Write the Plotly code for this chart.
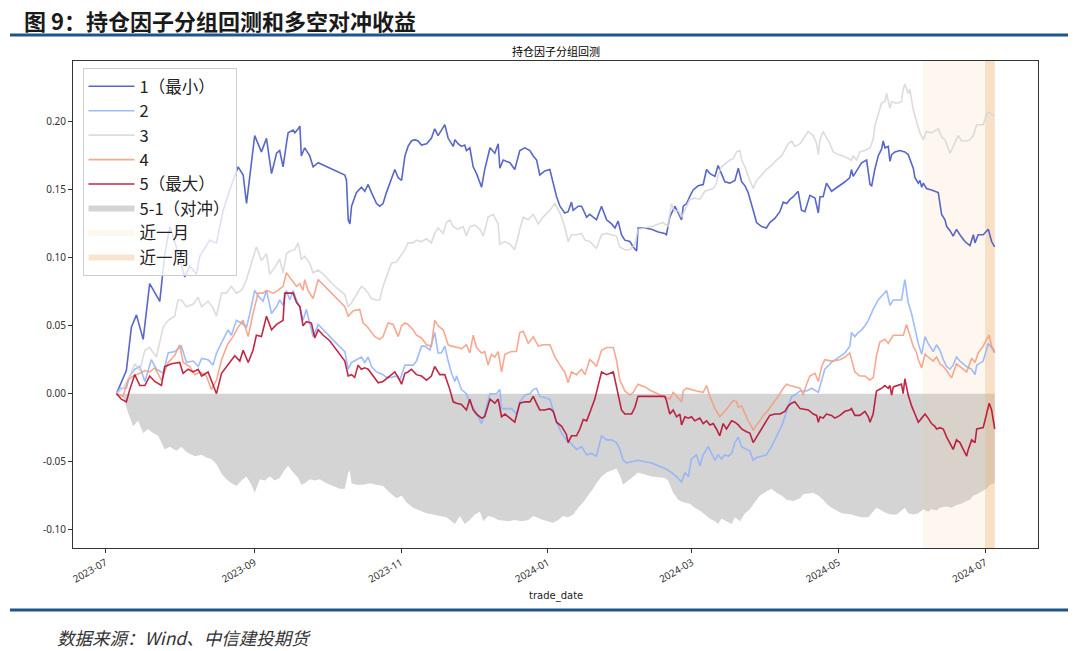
import pandas as pd
import plotly.graph_objects as go

BASE_DATE = pd.Timestamp("2023-07-01")

# ---- data: day offsets from BASE_DATE and cumulative returns ----
g1_day = [4.6, 8.7, 10.8, 12.9, 15.7, 18.4, 22.6, 24.7, 26.8, 29.5,
          33.0, 35.1, 37.9, 39.2, 43.4, 46.2, 49.0, 51.7, 55.2, 57.3,
          58.7, 60.1, 62.1, 64.9, 67.0, 69.1, 71.2, 72.5, 73.9, 75.3,
          76.0, 78.1, 78.8, 80.2, 80.9, 81.5, 82.9, 85.0, 86.4, 88.5,
          99.6, 100.3, 101.0, 101.7, 102.4, 104.4, 106.5, 107.9, 109.3, 110.7,
          112.8, 114.1, 115.5, 116.9, 118.3, 120.4, 121.8, 123.2, 124.6, 125.9,
          127.3, 128.7, 130.1, 131.5, 133.6, 135.6, 137.0, 138.4, 139.8, 141.2,
          142.6, 144.7, 145.4, 146.7, 148.1, 149.5, 150.2, 151.6, 153.0, 154.4,
          156.5, 157.8, 160.0, 162.0, 163.4, 164.1, 165.5, 168.3, 170.3, 172.4,
          174.5, 176.6, 178.0, 179.4, 180.7, 182.8, 184.9, 187.7, 189.1, 191.1,
          192.5, 193.9, 194.6, 196.7, 198.1, 200.2, 201.5, 204.3, 206.4, 208.5,
          210.6, 212.0, 213.3, 214.7, 216.1, 218.2, 219.6, 221.0, 221.6, 224.4,
          227.2, 230.0, 232.7, 233.4, 234.8, 236.9, 238.3, 239.7, 240.4, 241.8,
          243.1, 244.5, 246.6, 248.7, 250.1, 251.5, 253.6, 254.9, 256.3, 257.7,
          259.8, 261.9, 263.3, 264.7, 266.1, 267.4, 269.5, 270.9, 273.0, 275.0,
          276.4, 278.5, 280.6, 282.0, 283.4, 284.8, 286.2, 288.2, 289.6, 291.0,
          293.1, 295.2, 296.6, 297.3, 298.6, 300.0, 302.1, 305.6, 307.7, 309.7,
          310.4, 311.1, 312.5, 314.6, 316.7, 318.1, 318.8, 320.1, 321.5, 322.9,
          323.6, 324.3, 325.7, 326.4, 327.1, 328.5, 330.5, 332.6, 334.0, 336.1,
          336.8, 338.2, 338.9, 339.6, 340.3, 341.6, 343.7, 346.5, 347.9, 349.3,
          350.0, 351.4, 352.7, 354.1, 355.5, 357.6, 359.7, 361.1, 361.8, 363.1,
          365.2, 367.3, 368.7, 370.0]
g1_ret = [0.000, 0.017, 0.049, 0.058, 0.040, 0.081, 0.068, 0.103, 0.123, 0.108,
          0.086, 0.094, 0.088, 0.101, 0.113, 0.111, 0.135, 0.150, 0.167, 0.161,
          0.140, 0.161, 0.190, 0.178, 0.188, 0.162, 0.177, 0.179, 0.167, 0.184,
          0.192, 0.194, 0.192, 0.195, 0.197, 0.175, 0.181, 0.175, 0.167, 0.170,
          0.161, 0.157, 0.128, 0.125, 0.138, 0.148, 0.152, 0.149, 0.154, 0.148,
          0.140, 0.138, 0.140, 0.148, 0.155, 0.165, 0.159, 0.157, 0.175, 0.182,
          0.186, 0.187, 0.186, 0.183, 0.184, 0.188, 0.195, 0.190, 0.194, 0.198,
          0.188, 0.182, 0.187, 0.184, 0.182, 0.183, 0.179, 0.181, 0.167, 0.162,
          0.152, 0.165, 0.181, 0.177, 0.184, 0.166, 0.172, 0.170, 0.165, 0.179,
          0.181, 0.179, 0.175, 0.172, 0.161, 0.164, 0.165, 0.145, 0.138, 0.133,
          0.134, 0.141, 0.135, 0.138, 0.138, 0.130, 0.132, 0.128, 0.138, 0.128,
          0.125, 0.122, 0.127, 0.117, 0.113, 0.112, 0.108, 0.105, 0.122, 0.122,
          0.121, 0.119, 0.118, 0.117, 0.130, 0.138, 0.133, 0.128, 0.138, 0.140,
          0.145, 0.150, 0.153, 0.154, 0.165, 0.162, 0.160, 0.168, 0.162, 0.156,
          0.155, 0.157, 0.166, 0.156, 0.153, 0.148, 0.135, 0.126, 0.123, 0.122,
          0.126, 0.129, 0.134, 0.141, 0.140, 0.143, 0.145, 0.149, 0.135, 0.134,
          0.146, 0.144, 0.133, 0.145, 0.145, 0.155, 0.149, 0.153, 0.156, 0.159,
          0.165, 0.160, 0.164, 0.170, 0.172, 0.154, 0.153, 0.165, 0.175, 0.180,
          0.186, 0.181, 0.182, 0.171, 0.176, 0.178, 0.179, 0.178, 0.176, 0.166,
          0.159, 0.155, 0.157, 0.152, 0.155, 0.151, 0.150, 0.148, 0.132, 0.128,
          0.123, 0.120, 0.116, 0.121, 0.117, 0.112, 0.109, 0.117, 0.111, 0.117,
          0.117, 0.121, 0.112, 0.108]

g2_day = [4.6, 6.0, 8.7, 10.1, 12.2, 14.3, 16.4, 19.1, 21.2, 24.0,
          26.1, 28.8, 31.6, 33.7, 36.5, 38.6, 40.0, 42.7, 44.8, 46.2,
          49.0, 51.0, 52.4, 54.5, 56.6, 58.7, 60.1, 62.1, 63.5, 65.6,
          67.0, 69.1, 71.2, 72.5, 73.9, 75.3, 76.7, 78.1, 79.5, 80.9,
          82.2, 83.6, 85.0, 86.4, 88.5, 90.6, 93.3, 96.1, 99.6, 101.0,
          102.4, 104.4, 106.5, 107.9, 109.3, 110.7, 112.8, 114.1, 115.5, 116.9,
          119.0, 121.1, 122.5, 124.6, 126.6, 128.0, 129.4, 131.5, 132.9, 135.0,
          137.0, 138.4, 139.8, 141.2, 142.6, 144.0, 145.4, 146.1, 148.1, 150.2,
          151.6, 153.7, 156.5, 157.8, 160.0, 162.7, 164.1, 164.8, 169.0, 171.0,
          172.4, 174.5, 176.6, 178.0, 179.3, 180.7, 182.8, 184.9, 187.7, 189.8,
          191.8, 193.9, 196.0, 198.1, 200.2, 202.2, 204.3, 206.4, 208.5, 210.6,
          212.6, 214.0, 215.4, 216.8, 221.6, 227.2, 232.7, 235.5, 237.6, 239.7,
          241.1, 242.5, 243.8, 245.9, 247.3, 248.7, 250.8, 252.2, 253.6, 254.9,
          256.3, 257.7, 259.1, 260.5, 261.9, 263.3, 264.7, 266.7, 268.1, 269.5,
          270.9, 273.0, 275.0, 277.1, 279.2, 281.3, 282.7, 284.1, 285.5, 286.8,
          289.0, 291.7, 293.8, 296.6, 298.0, 299.3, 302.1, 305.6, 307.7, 309.7,
          310.4, 311.8, 313.2, 314.6, 316.0, 317.4, 319.4, 321.5, 323.6, 325.0,
          326.4, 327.8, 329.9, 331.2, 332.6, 333.3, 334.0, 335.4, 336.8, 338.2,
          339.6, 341.0, 342.3, 344.4, 345.8, 347.2, 348.6, 350.0, 351.4, 352.7,
          354.1, 355.5, 358.3, 360.4, 361.8, 362.5, 365.2, 367.3, 368.7, 370.0]
g2_ret = [0.000, 0.004, 0.004, 0.013, 0.018, 0.020, 0.009, 0.025, 0.018, 0.015,
          0.030, 0.031, 0.035, 0.023, 0.024, 0.020, 0.026, 0.025, 0.021, 0.030,
          0.040, 0.047, 0.043, 0.054, 0.052, 0.049, 0.059, 0.076, 0.072, 0.068,
          0.076, 0.059, 0.064, 0.069, 0.065, 0.076, 0.069, 0.076, 0.069, 0.064,
          0.054, 0.062, 0.052, 0.042, 0.051, 0.047, 0.042, 0.037, 0.031, 0.018,
          0.023, 0.025, 0.027, 0.023, 0.027, 0.020, 0.016, 0.015, 0.014, 0.012,
          0.012, 0.013, 0.010, 0.021, 0.021, 0.021, 0.024, 0.035, 0.035, 0.032,
          0.045, 0.030, 0.030, 0.035, 0.024, 0.015, 0.009, 0.013, 0.003, 0.000,
          -0.007, -0.012, -0.022, -0.015, 0.000, 0.000, 0.003, -0.011, -0.011, -0.015,
          -0.006, -0.001, 0.000, 0.003, 0.004, -0.002, -0.003, -0.004, -0.021, -0.029,
          -0.034, -0.037, -0.041, -0.039, -0.045, -0.044, -0.046, -0.031, -0.034, -0.034,
          -0.036, -0.041, -0.049, -0.051, -0.049, -0.051, -0.055, -0.058, -0.061, -0.065,
          -0.058, -0.061, -0.048, -0.045, -0.053, -0.045, -0.039, -0.044, -0.049, -0.045,
          -0.048, -0.045, -0.046, -0.044, -0.036, -0.032, -0.039, -0.041, -0.042, -0.049,
          -0.047, -0.046, -0.045, -0.039, -0.032, -0.024, -0.017, -0.010, -0.002, -0.001,
          0.002, 0.002, 0.004, 0.001, 0.010, 0.018, 0.023, 0.027, 0.030, 0.035,
          0.045, 0.042, 0.045, 0.047, 0.050, 0.054, 0.062, 0.069, 0.073, 0.076,
          0.065, 0.069, 0.069, 0.069, 0.084, 0.075, 0.067, 0.059, 0.047, 0.037,
          0.029, 0.042, 0.037, 0.031, 0.036, 0.032, 0.025, 0.020, 0.018, 0.021,
          0.027, 0.024, 0.020, 0.018, 0.014, 0.021, 0.024, 0.037, 0.034, 0.030]

g3_day = [4.6, 7.3, 10.1, 12.2, 14.3, 16.4, 18.4, 21.2, 24.0, 26.1,
          28.8, 30.2, 31.6, 33.7, 36.5, 38.6, 40.0, 42.7, 44.8, 46.2,
          48.3, 50.3, 52.4, 54.5, 56.6, 58.7, 60.7, 62.8, 64.9, 67.0,
          68.4, 70.5, 72.5, 73.9, 75.3, 76.7, 78.8, 80.2, 81.5, 82.9,
          85.0, 86.4, 88.5, 90.6, 93.3, 96.1, 99.6, 101.0, 102.4, 104.4,
          106.5, 107.9, 109.3, 110.7, 112.8, 114.1, 115.5, 116.9, 119.0, 121.1,
          122.5, 124.6, 125.9, 128.0, 129.4, 131.5, 133.6, 135.6, 137.0, 138.4,
          140.5, 141.9, 143.3, 144.7, 146.7, 148.8, 150.2, 151.6, 153.7, 155.8,
          157.2, 159.2, 161.3, 163.4, 164.1, 166.2, 168.3, 170.3, 172.4, 173.8,
          175.9, 178.0, 180.1, 182.1, 184.9, 187.0, 189.1, 191.1, 192.5, 193.9,
          196.0, 198.1, 199.5, 201.5, 204.3, 206.4, 208.5, 211.3, 212.6, 214.0,
          216.1, 218.2, 220.3, 221.6, 227.2, 232.0, 234.1, 235.5, 236.9, 238.3,
          239.7, 241.8, 243.1, 245.2, 247.3, 249.4, 250.8, 252.9, 254.2, 254.9,
          256.3, 258.4, 259.8, 261.2, 262.6, 264.0, 264.7, 266.1, 267.4, 269.5,
          270.9, 273.0, 275.0, 277.1, 279.2, 281.3, 282.7, 284.1, 285.5, 286.8,
          289.0, 291.0, 292.4, 294.5, 295.9, 296.6, 297.3, 298.6, 300.0, 301.4,
          302.8, 304.9, 307.0, 309.0, 310.4, 311.1, 312.5, 313.9, 316.0, 318.1,
          319.4, 320.1, 321.5, 322.9, 324.3, 325.0, 326.4, 327.1, 328.5, 329.9,
          331.2, 331.9, 332.6, 334.0, 334.7, 336.1, 337.5, 338.9, 340.3, 341.6,
          343.7, 346.5, 347.9, 349.3, 351.4, 353.4, 354.8, 356.2, 358.3, 359.7,
          361.1, 362.5, 365.2, 366.6, 367.7, 370.0]
g3_ret = [0.000, 0.004, 0.013, 0.022, 0.017, 0.032, 0.034, 0.027, 0.049, 0.054,
          0.057, 0.069, 0.069, 0.064, 0.066, 0.071, 0.064, 0.068, 0.063, 0.057,
          0.074, 0.074, 0.079, 0.074, 0.076, 0.084, 0.096, 0.108, 0.098, 0.103,
          0.088, 0.093, 0.099, 0.089, 0.103, 0.105, 0.106, 0.111, 0.099, 0.101,
          0.096, 0.089, 0.091, 0.088, 0.083, 0.078, 0.073, 0.064, 0.067, 0.073,
          0.079, 0.077, 0.074, 0.070, 0.069, 0.069, 0.079, 0.086, 0.096, 0.097,
          0.101, 0.106, 0.111, 0.111, 0.113, 0.112, 0.114, 0.111, 0.118, 0.122,
          0.118, 0.126, 0.128, 0.123, 0.121, 0.123, 0.116, 0.123, 0.124, 0.121,
          0.116, 0.130, 0.132, 0.125, 0.110, 0.112, 0.110, 0.106, 0.121, 0.130,
          0.128, 0.132, 0.125, 0.130, 0.135, 0.140, 0.133, 0.123, 0.112, 0.117,
          0.117, 0.118, 0.113, 0.112, 0.107, 0.117, 0.118, 0.117, 0.116, 0.108,
          0.106, 0.106, 0.110, 0.121, 0.123, 0.126, 0.123, 0.140, 0.134, 0.135,
          0.130, 0.138, 0.143, 0.144, 0.143, 0.149, 0.150, 0.151, 0.155, 0.161,
          0.167, 0.170, 0.172, 0.173, 0.178, 0.179, 0.172, 0.167, 0.160, 0.151,
          0.157, 0.161, 0.165, 0.168, 0.172, 0.175, 0.179, 0.184, 0.186, 0.182,
          0.184, 0.189, 0.193, 0.190, 0.184, 0.176, 0.187, 0.193, 0.189, 0.184,
          0.178, 0.176, 0.175, 0.173, 0.172, 0.175, 0.172, 0.178, 0.179, 0.181,
          0.187, 0.197, 0.206, 0.214, 0.215, 0.221, 0.210, 0.215, 0.214, 0.214,
          0.215, 0.224, 0.228, 0.221, 0.224, 0.209, 0.200, 0.192, 0.187, 0.193,
          0.192, 0.195, 0.189, 0.187, 0.177, 0.184, 0.190, 0.186, 0.186, 0.187,
          0.190, 0.198, 0.198, 0.206, 0.207, 0.204]

g4_day = [4.6, 7.3, 9.4, 11.5, 14.3, 16.4, 18.4, 20.5, 23.3, 26.1,
          28.8, 30.9, 32.3, 35.1, 37.2, 39.3, 42.0, 44.1, 46.2, 48.3,
          51.0, 53.1, 55.2, 57.3, 59.4, 61.4, 63.5, 65.6, 67.0, 69.8,
          71.8, 73.9, 75.3, 77.4, 79.5, 80.9, 82.2, 82.9, 84.3, 86.4,
          88.5, 91.3, 94.0, 96.8, 99.6, 101.0, 103.1, 105.8, 107.2, 108.6,
          110.0, 112.1, 114.1, 115.5, 117.6, 119.7, 121.8, 123.2, 124.6, 125.9,
          128.0, 129.4, 131.5, 133.6, 135.6, 137.0, 138.4, 140.5, 142.6, 144.0,
          146.7, 148.1, 150.2, 151.6, 153.0, 154.4, 156.5, 157.8, 159.2, 160.6,
          162.0, 163.4, 164.8, 166.2, 168.9, 171.0, 172.4, 173.8, 175.9, 178.0,
          180.1, 182.1, 184.9, 187.0, 189.1, 191.1, 192.5, 193.9, 196.0, 198.1,
          199.5, 201.5, 202.9, 204.3, 206.4, 208.5, 211.3, 212.6, 214.0, 216.1,
          218.2, 219.6, 221.6, 224.4, 227.2, 230.0, 232.7, 234.8, 236.2, 237.6,
          239.7, 240.4, 241.8, 245.9, 248.7, 250.1, 251.5, 253.6, 255.6, 257.7,
          259.1, 261.2, 262.6, 263.3, 264.7, 266.1, 267.4, 268.8, 269.5, 270.9,
          272.3, 273.7, 275.8, 277.8, 279.9, 282.0, 283.4, 284.8, 286.8, 289.0,
          290.3, 291.7, 293.1, 295.2, 296.6, 298.0, 299.3, 302.1, 305.6, 307.7,
          309.7, 311.8, 313.9, 316.0, 318.1, 319.5, 320.8, 322.2, 324.3, 325.7,
          327.8, 329.9, 332.0, 333.3, 334.7, 336.1, 337.5, 338.2, 339.6, 341.0,
          342.3, 344.4, 345.8, 347.2, 348.6, 350.0, 351.4, 352.1, 354.1, 356.2,
          358.3, 360.4, 361.8, 363.1, 365.2, 366.6, 367.7, 368.7, 370.0]
g4_ret = [0.000, -0.002, 0.010, 0.013, 0.015, 0.017, 0.016, 0.019, 0.010, 0.023,
          0.028, 0.036, 0.023, 0.020, 0.014, 0.016, 0.013, 0.003, 0.010, 0.025,
          0.037, 0.042, 0.049, 0.054, 0.042, 0.059, 0.074, 0.074, 0.076, 0.074,
          0.076, 0.079, 0.089, 0.084, 0.079, 0.081, 0.076, 0.084, 0.076, 0.070,
          0.084, 0.079, 0.074, 0.069, 0.064, 0.057, 0.061, 0.062, 0.052, 0.050,
          0.047, 0.042, 0.040, 0.042, 0.052, 0.051, 0.042, 0.050, 0.052, 0.051,
          0.047, 0.043, 0.041, 0.036, 0.035, 0.054, 0.050, 0.047, 0.036, 0.035,
          0.034, 0.033, 0.036, 0.030, 0.043, 0.034, 0.030, 0.031, 0.021, 0.029,
          0.027, 0.031, 0.016, 0.029, 0.031, 0.031, 0.045, 0.046, 0.037, 0.042,
          0.035, 0.036, 0.036, 0.027, 0.021, 0.016, 0.008, 0.016, 0.014, 0.018,
          0.014, 0.025, 0.023, 0.020, 0.032, 0.034, 0.034, 0.025, 0.010, 0.002,
          -0.001, 0.001, 0.007, 0.005, 0.002, 0.000, -0.002, -0.004, 0.001, -0.002,
          -0.006, 0.002, 0.004, 0.002, 0.001, 0.006, -0.002, -0.011, -0.017, -0.013,
          -0.010, -0.005, -0.006, -0.010, -0.009, -0.015, -0.020, -0.024, -0.027, -0.023,
          -0.020, -0.016, -0.012, -0.007, -0.002, 0.004, 0.007, 0.006, 0.005, 0.004,
          -0.001, 0.007, 0.013, 0.015, 0.009, 0.020, 0.025, 0.024, 0.025, 0.027,
          0.030, 0.016, 0.013, 0.013, 0.010, 0.012, 0.028, 0.038, 0.040, 0.037,
          0.043, 0.043, 0.043, 0.051, 0.042, 0.035, 0.030, 0.025, 0.019, 0.029,
          0.027, 0.024, 0.027, 0.022, 0.020, 0.017, 0.013, 0.012, 0.022, 0.019,
          0.016, 0.026, 0.023, 0.030, 0.035, 0.040, 0.043, 0.035, 0.031]

g5_day = [4.6, 6.6, 8.7, 10.1, 12.2, 14.3, 16.4, 18.4, 20.5, 23.3,
          24.7, 27.5, 30.9, 32.3, 34.4, 36.5, 38.6, 40.0, 42.7, 44.1,
          46.2, 48.3, 51.0, 53.8, 55.9, 57.3, 59.4, 61.4, 62.8, 64.9,
          67.0, 69.1, 71.2, 73.9, 74.6, 76.0, 78.1, 79.5, 80.9, 82.2,
          83.6, 85.7, 87.1, 88.5, 90.6, 93.3, 96.8, 99.6, 101.0, 102.4,
          103.7, 105.1, 106.5, 107.9, 109.3, 111.4, 113.5, 115.5, 117.6, 120.4,
          121.8, 123.2, 124.6, 125.9, 127.3, 129.4, 131.5, 133.6, 135.6, 137.0,
          139.1, 141.2, 143.3, 144.7, 146.1, 148.1, 150.2, 151.6, 153.0, 154.4,
          156.5, 157.8, 160.0, 162.0, 163.4, 164.8, 166.2, 168.3, 170.3, 172.4,
          174.5, 176.6, 178.0, 179.3, 180.7, 182.8, 184.9, 186.3, 187.7, 189.8,
          191.8, 192.5, 193.9, 196.0, 197.4, 198.8, 200.2, 201.5, 203.6, 206.4,
          208.5, 211.3, 213.3, 214.7, 216.1, 218.9, 220.3, 221.6, 232.7, 233.4,
          234.8, 236.2, 237.6, 239.0, 239.7, 241.1, 242.5, 243.8, 245.2, 247.3,
          248.7, 250.1, 251.5, 252.9, 254.2, 255.6, 257.0, 258.4, 260.5, 261.9,
          263.3, 264.7, 266.7, 268.1, 269.5, 270.9, 272.3, 274.4, 276.4, 278.5,
          280.6, 282.7, 284.1, 285.5, 286.8, 289.0, 292.4, 294.5, 295.9, 296.6,
          297.3, 298.6, 300.0, 302.1, 303.5, 305.6, 307.7, 309.7, 310.4, 311.8,
          313.9, 316.0, 317.4, 318.1, 319.4, 320.8, 322.9, 324.3, 325.7, 326.4,
          327.1, 327.8, 329.2, 331.2, 331.9, 332.6, 334.0, 335.4, 336.8, 338.2,
          339.6, 341.0, 342.3, 343.7, 345.1, 345.8, 347.2, 348.6, 350.0, 351.4,
          352.7, 354.1, 355.5, 356.9, 358.3, 359.0, 360.4, 361.8, 362.5, 365.2,
          366.6, 367.7, 368.7, 370.0]
g5_ret = [0.000, -0.004, -0.006, 0.003, 0.014, 0.006, 0.006, 0.013, 0.009, 0.006,
          0.020, 0.022, 0.023, 0.015, 0.018, 0.016, 0.018, 0.013, 0.016, 0.010,
          0.000, 0.015, 0.021, 0.028, 0.024, 0.032, 0.023, 0.032, 0.043, 0.042,
          0.057, 0.047, 0.051, 0.054, 0.074, 0.074, 0.074, 0.067, 0.064, 0.050,
          0.053, 0.052, 0.041, 0.047, 0.043, 0.039, 0.031, 0.024, 0.013, 0.014,
          0.012, 0.021, 0.018, 0.019, 0.018, 0.013, 0.008, 0.009, 0.012, 0.016,
          0.012, 0.007, 0.015, 0.016, 0.018, 0.014, 0.013, 0.010, 0.013, 0.020,
          0.014, 0.014, 0.003, -0.006, -0.007, -0.008, -0.012, -0.004, -0.012, -0.015,
          -0.018, -0.017, -0.004, -0.007, -0.004, -0.017, -0.015, -0.018, -0.021, -0.007,
          -0.006, -0.006, -0.002, -0.007, -0.012, -0.012, -0.011, -0.013, -0.021, -0.024,
          -0.030, -0.036, -0.031, -0.031, -0.026, -0.019, -0.020, -0.014, -0.004, 0.016,
          0.014, 0.016, 0.000, -0.012, -0.015, -0.015, -0.010, -0.002, -0.002, -0.005,
          -0.015, -0.012, -0.017, -0.015, -0.023, -0.017, -0.018, -0.017, -0.020, -0.018,
          -0.022, -0.020, -0.023, -0.022, -0.026, -0.031, -0.022, -0.026, -0.020, -0.021,
          -0.023, -0.026, -0.028, -0.029, -0.036, -0.032, -0.027, -0.022, -0.016, -0.015,
          -0.015, -0.013, -0.009, -0.007, -0.006, -0.011, -0.012, -0.015, -0.016, -0.021,
          -0.017, -0.018, -0.015, -0.016, -0.018, -0.016, -0.013, -0.012, -0.011, -0.016,
          -0.016, -0.013, -0.017, -0.021, -0.015, 0.002, 0.004, 0.006, 0.004, 0.006,
          -0.001, 0.005, 0.006, 0.007, 0.000, 0.011, -0.001, -0.009, -0.015, -0.021,
          -0.018, -0.015, -0.018, -0.022, -0.024, -0.026, -0.025, -0.026, -0.032, -0.037,
          -0.041, -0.034, -0.036, -0.041, -0.046, -0.041, -0.034, -0.036, -0.026, -0.025,
          -0.014, -0.007, -0.012, -0.026]

hedge_day = [4.6, 7.3, 9.4, 11.5, 13.6, 15.7, 17.7, 19.8, 21.9, 24.7,
             26.8, 29.5, 31.6, 33.7, 37.2, 40.0, 42.0, 44.1, 46.2, 48.3,
             50.3, 52.4, 54.5, 56.6, 58.7, 60.7, 62.1, 64.2, 66.3, 68.4,
             70.5, 72.5, 74.6, 76.0, 78.1, 80.2, 81.5, 82.9, 85.0, 87.1,
             89.2, 91.9, 94.7, 97.5, 99.6, 101.0, 101.7, 102.4, 104.4, 107.2,
             110.0, 112.8, 115.5, 118.3, 121.1, 123.2, 125.2, 128.0, 130.8, 133.6,
             136.3, 139.1, 141.9, 144.0, 145.4, 147.4, 149.5, 151.6, 153.7, 155.8,
             157.2, 159.2, 161.3, 163.4, 167.6, 170.3, 173.1, 175.9, 178.0, 182.1,
             186.3, 188.4, 190.4, 192.5, 194.6, 196.7, 198.8, 200.8, 202.9, 204.3,
             206.4, 208.5, 211.3, 212.6, 214.0, 215.4, 216.8, 218.2, 221.6, 227.2,
             232.7, 234.1, 236.2, 238.3, 240.4, 243.1, 245.2, 247.3, 249.4, 251.5,
             253.6, 254.9, 256.3, 258.4, 260.5, 261.9, 264.0, 266.1, 268.1, 270.2,
             272.3, 275.0, 277.1, 279.2, 281.3, 283.4, 286.2, 289.0, 290.3, 294.5,
             296.6, 298.6, 300.0, 302.1, 304.2, 306.3, 310.4, 312.5, 314.6, 317.4,
             318.8, 320.8, 322.9, 325.0, 327.1, 329.2, 331.2, 332.6, 334.0, 336.1,
             338.2, 340.3, 342.3, 343.7, 345.8, 347.2, 350.0, 352.1, 354.1, 356.2,
             358.3, 359.7, 361.1, 362.5, 364.5, 366.6, 368.0, 370.0]
hedge_ret = [0.000, -0.002, -0.014, -0.024, -0.020, -0.029, -0.026, -0.029, -0.031, -0.041,
             -0.039, -0.042, -0.039, -0.043, -0.046, -0.045, -0.047, -0.048, -0.052, -0.059,
             -0.063, -0.066, -0.068, -0.064, -0.061, -0.067, -0.073, -0.063, -0.064, -0.061,
             -0.064, -0.062, -0.056, -0.053, -0.058, -0.062, -0.067, -0.066, -0.063, -0.064,
             -0.063, -0.066, -0.068, -0.070, -0.070, -0.058, -0.057, -0.066, -0.067, -0.067,
             -0.066, -0.067, -0.068, -0.073, -0.077, -0.075, -0.080, -0.084, -0.086, -0.088,
             -0.089, -0.090, -0.091, -0.094, -0.096, -0.090, -0.096, -0.093, -0.089, -0.087,
             -0.094, -0.090, -0.091, -0.093, -0.094, -0.093, -0.094, -0.093, -0.090, -0.093,
             -0.095, -0.093, -0.090, -0.091, -0.089, -0.084, -0.080, -0.075, -0.070, -0.066,
             -0.061, -0.058, -0.056, -0.055, -0.060, -0.067, -0.065, -0.063, -0.058, -0.061,
             -0.062, -0.064, -0.073, -0.078, -0.080, -0.081, -0.084, -0.086, -0.089, -0.092,
             -0.094, -0.096, -0.092, -0.094, -0.096, -0.091, -0.094, -0.088, -0.085, -0.080,
             -0.075, -0.072, -0.070, -0.073, -0.075, -0.078, -0.079, -0.077, -0.074, -0.073,
             -0.075, -0.078, -0.081, -0.084, -0.086, -0.088, -0.089, -0.090, -0.091, -0.091,
             -0.088, -0.084, -0.086, -0.088, -0.089, -0.089, -0.086, -0.084, -0.088, -0.089,
             -0.088, -0.085, -0.087, -0.085, -0.086, -0.084, -0.083, -0.084, -0.082, -0.081,
             -0.079, -0.078, -0.075, -0.074, -0.072, -0.070, -0.067, -0.066]

MONTH_SPAN = ["2024-06-05", "2024-07-05"]
WEEK_SPAN = ["2024-07-01", "2024-07-05"]

X_RANGE = ["2023-06-17 12:00", "2024-07-23"]
Y_RANGE = [-0.1136, 0.2449]
X_TICKVALS = ["2023-07-01", "2023-09-01", "2023-11-01", "2024-01-01",
              "2024-03-01", "2024-05-01", "2024-07-01"]
X_TICKTEXT = ["2023-07", "2023-09", "2023-11", "2024-01", "2024-03", "2024-05", "2024-07"]
Y_TICKVALS = [-0.10, -0.05, 0.00, 0.05, 0.10, 0.15, 0.20]
Y_TICKTEXT = ["-0.10", "-0.05", "0.00", "0.05", "0.10", "0.15", "0.20"]

for d, v in [(g1_day, g1_ret), (g2_day, g2_ret), (g3_day, g3_ret),
             (g4_day, g4_ret), (g5_day, g5_ret), (hedge_day, hedge_ret)]:
    assert len(d) == len(v), (len(d), len(v))


def to_dates(days):
    return [BASE_DATE + pd.Timedelta(days=float(x)) for x in days]


fig = go.Figure()

# long-short hedge area
fig.add_trace(go.Scatter(
    x=to_dates(hedge_day), y=hedge_ret, mode="none", fill="tozeroy",
    fillcolor="#d4d4d4", name="5-1（对冲）", legendrank=6, hoverinfo="skip"))

# recent-period shading
for name, span, color, rank in [
        ("近一月", MONTH_SPAN, "rgba(245,200,150,0.14)", 7),
        ("近一周", WEEK_SPAN, "rgba(235,180,120,0.35)", 8)]:
    a, b = span
    fig.add_trace(go.Scatter(
        x=[a, b, b, a, a],
        y=[Y_RANGE[0], Y_RANGE[0], Y_RANGE[1], Y_RANGE[1], Y_RANGE[0]],
        mode="none", fill="toself", fillcolor=color, name=name,
        legendrank=rank, hoverinfo="skip"))

line_specs = [
    ("1（最小）", g1_day, g1_ret, "rgba(59,76,192,0.85)"),
    ("2", g2_day, g2_ret, "rgba(141,176,254,0.85)"),
    ("3", g3_day, g3_ret, "rgba(214,214,214,0.85)"),
    ("4", g4_day, g4_ret, "rgba(244,154,123,0.85)"),
    ("5（最大）", g5_day, g5_ret, "rgba(180,4,38,0.85)"),
]
for i, (name, d, v, color) in enumerate(line_specs):
    fig.add_trace(go.Scatter(
        x=to_dates(d), y=v, mode="lines", name=name,
        line=dict(color=color, width=1.6), legendrank=i + 1))

# pixel -> paper helpers for the frame decorations
L, R, T, B, W, H = 73, 42, 61, 103, 1080, 651
PW, PH = W - L - R, H - T - B


def px(xp):
    return (xp - L) / PW


def py(yp):
    return (H - B - yp) / PH


axis_common = dict(
    ticks="outside", ticklen=4, tickwidth=1, tickcolor="#333333",
    showline=True, linecolor="#333333", linewidth=1, mirror=True,
    showgrid=False, zeroline=False,
    tickfont=dict(size=10, color="#333333", family="Noto Sans, DejaVu Sans, sans-serif"),
)

fig.update_layout(
    width=W, height=H,
    margin=dict(l=L, r=R, t=T, b=B, autoexpand=False),
    paper_bgcolor="white", plot_bgcolor="white",
    font=dict(family="Noto Sans CJK SC, Noto Sans, sans-serif", color="#333333"),
    showlegend=True,
    legend=dict(
        x=px(82.5), y=py(68), xanchor="left", yanchor="top",
        bgcolor="rgba(255,255,255,0.8)", bordercolor="#cccccc", borderwidth=1,
        font=dict(size=16.5, color="#222222", family="Noto Sans CJK SC"),
        traceorder="normal", itemwidth=46,
    ),
    xaxis=dict(type="date", range=X_RANGE, tickmode="array",
               tickvals=X_TICKVALS, ticktext=X_TICKTEXT, tickangle=-30,
               **axis_common),
    yaxis=dict(range=Y_RANGE, tickmode="array", tickvals=Y_TICKVALS,
               ticktext=Y_TICKTEXT, **axis_common),
    annotations=[
        dict(text="<b>图 9：持仓因子分组回测和多空对冲收益</b>", xref="paper", yref="paper",
             x=px(22), y=py(20), xanchor="left", yanchor="middle", showarrow=False,
             font=dict(size=22, color="#1a1a1a", family="Noto Sans CJK SC")),
        dict(text="持仓因子分组回测", xref="paper", yref="paper",
             x=0.5, y=py(51), xanchor="center", yanchor="middle", showarrow=False,
             font=dict(size=11, color="#000000", family="Noto Sans CJK SC")),
        dict(text="trade_date", xref="paper", yref="paper",
             x=0.5, y=py(596), xanchor="center", yanchor="middle", showarrow=False,
             font=dict(size=10, color="#222222", family="DejaVu Sans, sans-serif")),
        dict(text="<i>数据来源：Wind、中信建投期货</i>", xref="paper", yref="paper",
             x=px(55), y=py(637), xanchor="left", yanchor="middle", showarrow=False,
             font=dict(size=17.5, color="#333333", family="Noto Sans CJK SC")),
    ],
    shapes=[
        dict(type="line", xref="paper", yref="paper", x0=px(10), x1=px(1068),
             y0=py(35), y1=py(35), line=dict(color="#1f5588", width=3)),
        dict(type="line", xref="paper", yref="paper", x0=px(10), x1=px(1068),
             y0=py(610), y1=py(610), line=dict(color="#1f5588", width=3)),
    ],
)

fig.write_html("out.html")
